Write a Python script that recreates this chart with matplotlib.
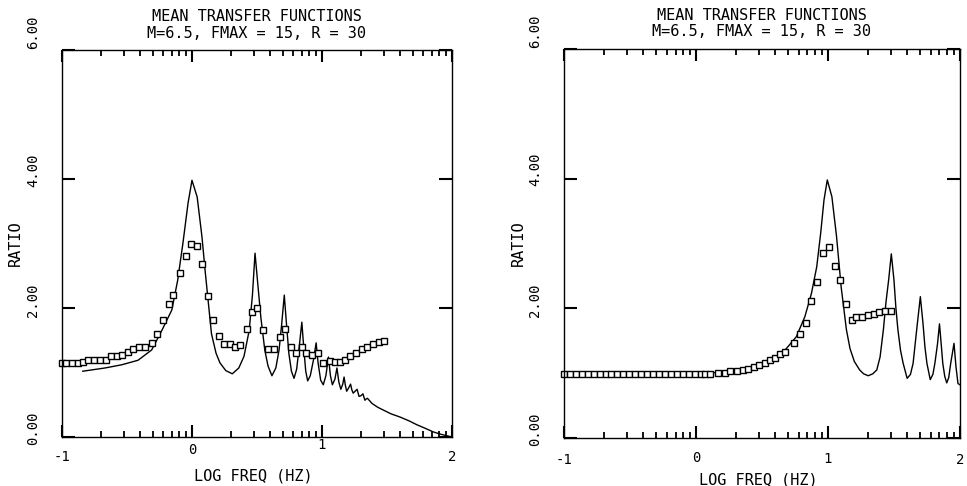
import numpy as np
import matplotlib
matplotlib.use("Agg")
import matplotlib.pyplot as plt
from matplotlib.transforms import offset_copy

# ---- data (x = log10 frequency in Hz, y = ratio) ----
left_line_x = [-0.84, -0.67, -0.54, -0.415, -0.31, -0.23, -0.155, -0.11, -0.07, -0.03,
               0.0, 0.04, 0.077, 0.10, 0.125, 0.15, 0.185, 0.215, 0.26, 0.31,
               0.36, 0.40, 0.44, 0.465, 0.485, 0.505, 0.53, 0.56, 0.585, 0.615,
               0.645, 0.67, 0.69, 0.71, 0.725, 0.745, 0.765, 0.785, 0.805, 0.825,
               0.845, 0.86, 0.875, 0.89, 0.91, 0.935, 0.955, 0.97, 0.99, 1.01,
               1.03, 1.05, 1.065, 1.08, 1.10, 1.115, 1.13, 1.145, 1.16, 1.17,
               1.18, 1.19, 1.205, 1.22, 1.23, 1.24, 1.255, 1.27, 1.285, 1.30,
               1.315, 1.33, 1.34, 1.35, 1.385, 1.43, 1.47, 1.53, 1.60, 1.67,
               1.73, 1.80, 1.855, 1.91, 1.96, 2.0]
left_line_y = [1.02, 1.07, 1.12, 1.19, 1.35, 1.66, 1.97, 2.43, 3.0, 3.63,
               3.98, 3.72, 3.1, 2.6, 2.1, 1.6, 1.3, 1.15, 1.03, 0.98,
               1.07, 1.25, 1.65, 2.2, 2.85, 2.4, 1.85, 1.35, 1.1, 0.95,
               1.07, 1.35, 1.75, 2.2, 1.8, 1.3, 1.02, 0.91, 1.05, 1.4,
               1.78, 1.38, 1.02, 0.87, 0.95, 1.2, 1.46, 1.15, 0.88, 0.81,
               0.95, 1.24, 0.95, 0.81, 0.9, 1.07, 0.85, 0.74, 0.82, 0.93,
               0.8, 0.71, 0.76, 0.82, 0.73, 0.68, 0.71, 0.74, 0.63, 0.64,
               0.67, 0.57, 0.59, 0.6, 0.52, 0.46, 0.42, 0.36, 0.31, 0.25,
               0.19, 0.13, 0.08, 0.045, 0.02, 0.0]

left_sq_x = [-1.0, -0.97, -0.925, -0.88, -0.835, -0.80, -0.755, -0.71, -0.66, -0.62,
             -0.575, -0.535, -0.49, -0.45, -0.405, -0.36, -0.31, -0.27, -0.225, -0.18,
             -0.145, -0.09, -0.045, -0.01, 0.035, 0.075, 0.125, 0.165, 0.21, 0.25,
             0.29, 0.33, 0.37, 0.42, 0.465, 0.50, 0.55, 0.585, 0.63, 0.675,
             0.715, 0.76, 0.80, 0.845, 0.88, 0.92, 0.97, 1.01, 1.06, 1.10,
             1.14, 1.18, 1.215, 1.26, 1.305, 1.345, 1.39, 1.435, 1.475]
left_sq_y = [1.15, 1.14, 1.14, 1.14, 1.17, 1.20, 1.20, 1.20, 1.20, 1.25,
             1.25, 1.27, 1.32, 1.37, 1.39, 1.40, 1.46, 1.60, 1.82, 2.06,
             2.20, 2.54, 2.80, 2.99, 2.96, 2.68, 2.18, 1.81, 1.57, 1.44,
             1.44, 1.39, 1.43, 1.67, 1.94, 2.00, 1.66, 1.37, 1.37, 1.55,
             1.67, 1.39, 1.30, 1.40, 1.31, 1.27, 1.30, 1.14, 1.18, 1.16,
             1.17, 1.19, 1.25, 1.31, 1.36, 1.40, 1.44, 1.47, 1.49]

right_line_x = [-1.0, -0.6, -0.2, 0.1, 0.25, 0.41, 0.535, 0.66, 0.76, 0.825,
                0.875, 0.915, 0.945, 0.97, 0.995, 1.03, 1.065, 1.10, 1.14, 1.167,
                1.20, 1.24, 1.27, 1.305, 1.34, 1.37, 1.395, 1.42, 1.44, 1.46,
                1.48, 1.50, 1.515, 1.53, 1.55, 1.57, 1.60, 1.625, 1.645, 1.675,
                1.70, 1.72, 1.735, 1.75, 1.775, 1.795, 1.81, 1.83, 1.845, 1.86,
                1.87, 1.885, 1.90, 1.915, 1.93, 1.955, 1.97, 1.985, 2.0]
right_line_y = [0.98, 0.98, 0.99, 1.0, 1.03, 1.08, 1.15, 1.32, 1.56, 1.87,
                2.23, 2.64, 3.16, 3.67, 3.98, 3.72, 3.11, 2.33, 1.67, 1.38,
                1.18, 1.05, 0.99, 0.96, 0.99, 1.05, 1.25, 1.67, 2.1, 2.44,
                2.84, 2.44, 2.0, 1.67, 1.35, 1.15, 0.92, 0.98, 1.15, 1.72,
                2.18, 1.77, 1.4, 1.15, 0.90, 0.98, 1.15, 1.45, 1.76, 1.4,
                1.15, 0.95, 0.85, 0.93, 1.15, 1.46, 1.1, 0.84, 0.82]

right_sq_x = [-1.0, -0.955, -0.91, -0.865, -0.82, -0.775, -0.73, -0.685, -0.64, -0.595,
              -0.55, -0.505, -0.46, -0.415, -0.37, -0.325, -0.28, -0.235, -0.19, -0.145,
              -0.10, -0.055, -0.01, 0.035, 0.07, 0.106, 0.17, 0.22, 0.26, 0.31,
              0.36, 0.395, 0.44, 0.48, 0.52, 0.56, 0.60, 0.64, 0.675, 0.74,
              0.79, 0.835, 0.875, 0.92, 0.965, 1.01, 1.05, 1.09, 1.135, 1.18,
              1.215, 1.26, 1.305, 1.35, 1.39, 1.43, 1.475]
right_sq_y = [0.99, 0.99, 0.98, 0.99, 0.99, 0.98, 0.99, 0.99, 0.98, 0.98,
              0.99, 0.98, 0.98, 0.98, 0.99, 0.98, 0.98, 0.98, 0.99, 0.98,
              0.98, 0.99, 0.99, 0.99, 0.99, 0.99, 1.01, 1.01, 1.03, 1.04,
              1.05, 1.07, 1.10, 1.13, 1.16, 1.20, 1.24, 1.29, 1.32, 1.46,
              1.60, 1.77, 2.11, 2.40, 2.85, 2.94, 2.66, 2.44, 2.07, 1.82,
              1.86, 1.86, 1.89, 1.92, 1.95, 1.96, 1.96]

x_tick_labels = ["-1", "0", "1", "2"]
y_tick_labels = ["0.00", "2.00", "4.00", "6.00"]
title = "MEAN TRANSFER FUNCTIONS\nM=6.5, FMAX = 15, R = 30"

FONT = "DejaVu Sans Mono"

fig = plt.figure(figsize=(9.67, 4.86), dpi=100)
ax_left = fig.add_axes([0.0641, 0.1008, 0.4033, 0.7963])
ax_right = fig.add_axes([0.5832, 0.0988, 0.4095, 0.8004])


def style_axes(ax, xlab_offsets, ylab_x, xlab_y):
    ax.set_xlim(-1, 2)
    ax.set_ylim(0, 6)
    ax.patch.set_visible(False)
    for s in ax.spines.values():
        s.set_linewidth(1.0)

    major = [-1, 0, 1, 2]
    minor = [d + np.log10(k) for d in (-1, 0, 1) for k in range(2, 10)]
    ax.set_xticks(major)
    ax.set_xticks(minor, minor=True)
    ax.set_yticks([0, 2, 4, 6])
    ax.tick_params(axis="x", which="both", length=0, labelbottom=False)
    ax.tick_params(axis="y", which="major", direction="in", length=9.5, width=1.5,
                   left=True, right=True, labelleft=False)

    # inward log ticks on the bottom and top edges, as short line segments
    xt = ax.get_xaxis_transform()
    for pos, frac, w in ((major, 0.032, 1.5), (minor, 0.015, 1.3)):
        ax.vlines(pos, 0, frac, colors="black", linewidths=w, transform=xt,
                  clip_on=False, zorder=5)
        ax.vlines(pos, 1 - frac, 1, colors="black", linewidths=w, transform=xt,
                  clip_on=False, zorder=5)

    # x tick labels, placed by hand because the plotter staggered them
    for x, lab, dy in zip(major, x_tick_labels, xlab_offsets):
        tr = offset_copy(xt, fig=fig, x=0, y=-dy * 0.72, units="points")
        ax.text(x, 0, lab, transform=tr, ha="center", va="center",
                fontsize=10, family=FONT)

    # rotated y tick labels, sitting a bit above their ticks
    for y, lab, dy in zip([0, 2, 4, 6], y_tick_labels, [9, 8, 9, 18]):
        tr = offset_copy(ax.get_yaxis_transform(), fig=fig, x=-29 * 0.72, y=dy * 0.72, units="points")
        ax.text(0, y, lab, transform=tr, ha="center", va="center", rotation=90,
                fontsize=10, family=FONT)

    ax.set_xlabel("LOG FREQ (HZ)", fontsize=11, family=FONT)
    ax.xaxis.set_label_coords(0.49, xlab_y)
    ax.set_ylabel("RATIO", fontsize=11, family=FONT)
    ax.yaxis.set_label_coords(ylab_x, 0.5)
    ax.set_title(title, fontsize=11, family=FONT, pad=9, linespacing=1.1)


ax_left.plot(left_line_x, left_line_y, color="black", lw=1.0)
ax_left.plot(left_sq_x, left_sq_y, "s", ms=4.5, mfc="white", mec="black", mew=1.0, clip_on=False)
style_axes(ax_left, [20, 13, 8, 20], -0.1, -0.082)

ax_right.plot(right_line_x, right_line_y, color="black", lw=1.0)
ax_right.plot(right_sq_x, right_sq_y, "s", ms=4.5, mfc="white", mec="black", mew=1.0, clip_on=False)
style_axes(ax_right, [22, 20, 21, 22], -0.097, -0.088)

fig.savefig("out.png", dpi=100)
